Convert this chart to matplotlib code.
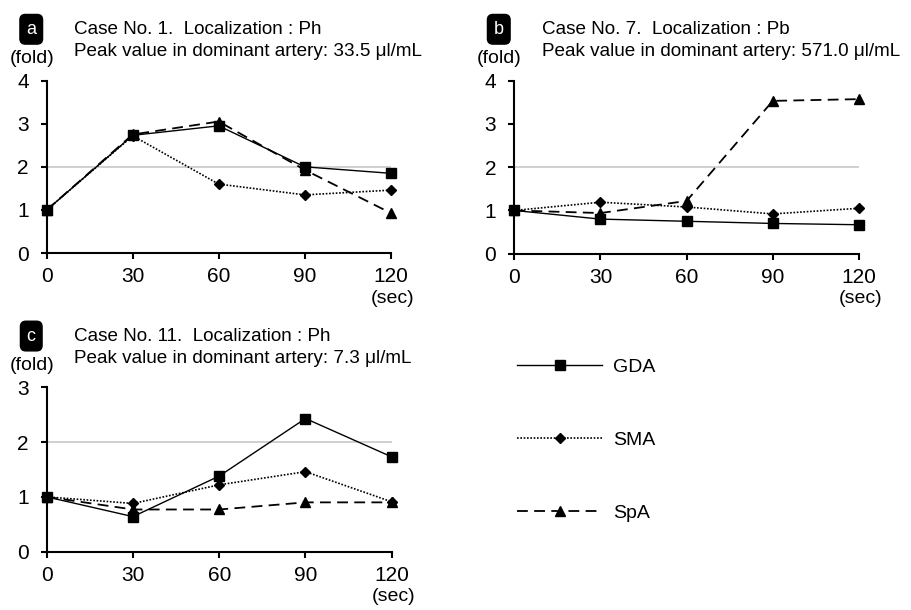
import matplotlib.pyplot as plt
from matplotlib.lines import Line2D

plt.rcParams['font.family'] = ['Liberation Sans', 'DejaVu Sans']

# time points (sec)
times = [0, 30, 60, 90, 120]

# panel a - Case No. 1
gda_a = [1.0, 2.73, 2.95, 2.0, 1.85]
sma_a = [1.0, 2.72, 1.60, 1.35, 1.46]
spa_a = [1.0, 2.75, 3.05, 1.93, 0.93]

# panel b - Case No. 7
gda_b = [1.0, 0.80, 0.75, 0.70, 0.67]
sma_b = [1.0, 1.19, 1.08, 0.92, 1.05]
spa_b = [1.0, 0.94, 1.22, 3.53, 3.57]

# panel c - Case No. 11
gda_c = [1.0, 0.64, 1.38, 2.43, 1.73]
sma_c = [1.0, 0.88, 1.22, 1.46, 0.91]
spa_c = [1.0, 0.77, 0.77, 0.90, 0.90]

letters = ['a', 'b', 'c']
titles = ['Case No. 1.  Localization : Ph', 'Case No. 7.  Localization : Pb',
          'Case No. 11.  Localization : Ph']
peaks = ['33.5', '571.0', '7.3']
ymax = [4, 4, 3]
series_names = ['GDA', 'SMA', 'SpA']

styles = {
    'GDA': dict(linestyle='-', marker='s', markersize=6.5, linewidth=1.0),
    'SMA': dict(linestyle=(0, (1, 1)), marker='D', markersize=5, linewidth=1.2),
    'SpA': dict(linestyle=(0, (6, 3.5)), marker='^', markersize=7, linewidth=1.3),
}

fig = plt.figure(figsize=(9.11, 6.10), dpi=100)

# axes rectangles in figure fraction
rects = [[0.0513, 0.585, 0.3776, 0.283],
         [0.5645, 0.584, 0.3784, 0.284],
         [0.0513, 0.0956, 0.3787, 0.2695]]

data = [(gda_a, sma_a, spa_a), (gda_b, sma_b, spa_b), (gda_c, sma_c, spa_c)]

fs = 14
tfs = 13.6
for i in range(3):
    ax = fig.add_axes(rects[i])
    ax.axhline(2, color='#c8c8c8', linewidth=1.2, zorder=1)
    for name, vals in zip(series_names, data[i]):
        ax.plot(times, vals, color='black', clip_on=False, zorder=3,
                label=name, **styles[name])
    ax.set_xlim(0, 120)
    ax.set_ylim(0, ymax[i])
    ax.set_xticks(times)
    ax.set_yticks(range(0, ymax[i] + 1))
    for s in ['top', 'right']:
        ax.spines[s].set_visible(False)
    for s in ['left', 'bottom']:
        ax.spines[s].set_linewidth(1.5)
    ax.tick_params(direction='out', length=4, width=1.5, labelsize=fs + 1)
    ax.tick_params(axis='y', pad=9)
    ax.tick_params(axis='x', pad=6)

    x0, y0, w, h = rects[i]
    top = y0 + h
    # panel letter
    fig.text(x0 - 0.017, top + 0.084, letters[i], color='white', fontsize=fs - 1,
             ha='center', va='center',
             bbox=dict(boxstyle='round,pad=0.35,rounding_size=0.3',
                       fc='black', ec='black'))
    fig.text(x0 + 0.030, top + 0.084, titles[i], fontsize=tfs, va='center')
    fig.text(x0 + 0.030, top + 0.047, 'Peak value in dominant artery: ' + peaks[i] + ' μl/mL',
             fontsize=tfs, va='center')
    fig.text(x0 - 0.041, top + 0.036, '(fold)', fontsize=fs, va='center')
    fig.text(x0 + w + 0.002, y0 - 0.074, '(sec)', fontsize=fs, ha='center', va='center')

# legend
handles = [Line2D([], [], color='black', **styles[n]) for n in series_names]
fig.legend(handles, series_names, loc='center left', bbox_to_anchor=(0.548, 0.278),
           frameon=False, fontsize=fs, handlelength=4.4, handletextpad=0.55,
           labelspacing=2.85, markerscale=1.0)

fig.savefig('out.png', dpi=100)
